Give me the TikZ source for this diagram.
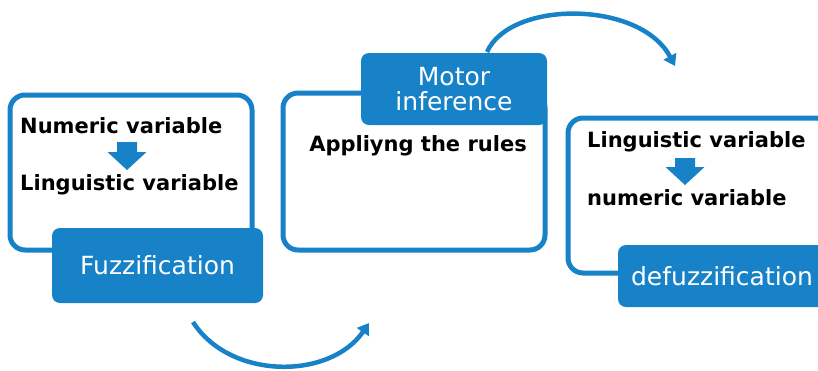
\documentclass[tikz,border=0pt]{standalone}
\usepackage{fontspec}
\setmainfont{DejaVu Sans}
\usetikzlibrary{arrows.meta}

\definecolor{fblue}{HTML}{1882C8}

\begin{document}
\begin{tikzpicture}[x=1pt,y=-1pt,
	frame/.style={draw=fblue, line width=5pt, rounded corners=15pt, fill=white, inner sep=0pt},
	stepname/.style={fill=fblue, rounded corners=8pt, inner sep=0pt, text=white, font=\fontsize{25}{25}\selectfont, align=center},
	txt/.style={anchor=west, inner sep=0pt, font=\fontsize{21}{22}\selectfont\bfseries},
	arcline/.style={draw=fblue, line width=4.5pt, -{Triangle[length=11pt,width=14pt]}}]
	% Canvas
	\useasboundingbox (0,0) rectangle (818,370);
	\clip (0,0) rectangle (818,370);

	% Define arc end points
	\coordinate (lowS) at (193,322);
	\coordinate (lowE) at (369,323);
	\coordinate (upS) at (487,52);
	\coordinate (upE) at (675,66);

	% Arcs between the steps
	\draw[arcline] (lowS) .. controls (230,380) and (330,380) .. (lowE);
	\draw[arcline] (upS) .. controls (510,0) and (640,0) .. (upE);

	% Step 1
	\node[frame, minimum width=242pt, minimum height=155pt] (box1) at (131,172.5) {};
	\node[stepname, minimum width=211pt, minimum height=75pt] (fuzz) at (157.5,265.5) {Fuzzification};
	\node[txt] (num1) at (20,126) {Numeric variable};
	\node[txt] (ling1) at (20,185) {Linguistic variable};
	\fill[fblue, shift={(127,142)}] (-10,0) -- (10,0) -- (10,10) -- (19.5,10) -- (0,28) -- (-19.5,10) -- (-10,10) -- cycle;

	% Step 2
	\node[frame, minimum width=262pt, minimum height=157pt] (box2) at (414,171.5) {};
	\node[stepname, minimum width=186pt, minimum height=72pt] (motor) at (454,89) {Motor\\inference};
	\node[txt, anchor=center] (rules) at (418,146) {Appliyng the rules};

	% Step 3
	\node[frame, minimum width=262pt, minimum height=155pt] (box3) at (699,195.5) {};
	\node[stepname, minimum width=208pt, minimum height=62pt] (defuzz) at (722,276) {defuzzification};
	\node[txt] (ling3) at (587,142) {Linguistic variable};
	\node[txt] (num3) at (587,198) {numeric variable};
	\fill[fblue, shift={(685,158)}] (-10,0) -- (10,0) -- (10,9) -- (19.5,9) -- (0,27) -- (-19.5,9) -- (-10,9) -- cycle;

\end{tikzpicture}
\end{document}
